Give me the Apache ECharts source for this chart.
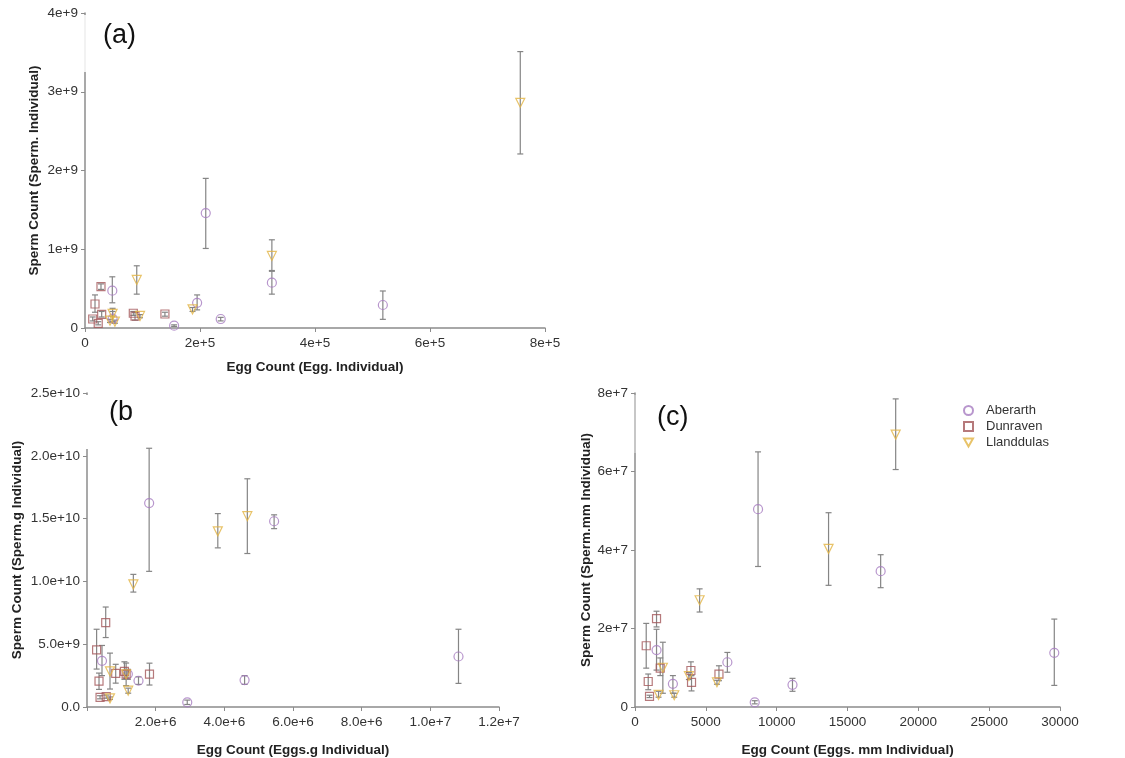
<!DOCTYPE html>
<html>
<head>
<meta charset="utf-8">
<script src="https://cdn.jsdelivr.net/npm/echarts@6/dist/echarts.min.js"></script>
<style>
  html, body { margin: 0; padding: 0; background: #fff; }
  #chart { width: 1125px; height: 758px; }
</style>
</head>
<body>
<div id="chart"></div>
<script>
// Each row: [egg count, sperm count, lower error, upper error]
const sites = ['Aberarth', 'Dunraven', 'Llanddulas'];

// (a) per individual
const aAberarth = [
  [2.10e5, 1.46e9, 1.01e9, 1.90e9],
  [3.25e5, 0.576e9, 0.43e9, 0.72e9],
  [5.18e5, 0.292e9, 0.11e9, 0.47e9],
  [0.475e5, 0.474e9, 0.32e9, 0.65e9],
  [0.48e5, 0.12e9, 0.08e9, 0.25e9],
  [1.95e5, 0.32e9, 0.23e9, 0.42e9],
  [2.36e5, 0.114e9, 0.09e9, 0.135e9],
  [1.55e5, 0.03e9, 0.02e9, 0.04e9]
];
const aDunraven = [
  [0.278e5, 0.525e9, 0.49e9, 0.56e9],
  [0.174e5, 0.305e9, 0.20e9, 0.42e9],
  [0.29e5, 0.174e9, 0.14e9, 0.21e9],
  [0.134e5, 0.114e9, 0.09e9, 0.14e9],
  [0.23e5, 0.06e9, 0.04e9, 0.08e9],
  [0.84e5, 0.187e9, 0.16e9, 0.21e9],
  [0.87e5, 0.15e9, 0.10e9, 0.20e9],
  [1.39e5, 0.178e9, 0.15e9, 0.20e9]
];
const aLlanddulas = [
  [0.90e5, 0.61e9, 0.43e9, 0.79e9],
  [3.25e5, 0.915e9, 0.73e9, 1.12e9],
  [1.87e5, 0.237e9, 0.21e9, 0.26e9],
  [0.957e5, 0.153e9, 0.13e9, 0.17e9],
  [0.435e5, 0.093e9, 0.07e9, 0.11e9],
  [0.52e5, 0.08e9, 0.06e9, 0.10e9],
  [0.48e5, 0.18e9, 0.15e9, 0.21e9],
  [7.57e5, 2.86e9, 2.21e9, 3.51e9]
];

// (b) per gram
const bAberarth = [
  [1.81e6, 16.24e9, 10.8e9, 20.6e9],
  [5.45e6, 14.79e9, 14.2e9, 15.3e9],
  [10.82e6, 4.02e9, 1.88e9, 6.19e9],
  [4.59e6, 2.14e9, 1.8e9, 2.5e9],
  [2.92e6, 0.37e9, 0.2e9, 0.55e9],
  [1.50e6, 2.09e9, 1.8e9, 2.4e9],
  [0.437e6, 3.68e9, 2.5e9, 4.9e9],
  [1.19e6, 2.62e9, 2.2e9, 3.0e9]
];
const bDunraven = [
  [0.545e6, 6.72e9, 5.53e9, 7.96e9],
  [0.28e6, 4.55e9, 3.02e9, 6.19e9],
  [0.35e6, 2.06e9, 1.4e9, 2.7e9],
  [0.38e6, 0.77e9, 0.65e9, 0.9e9],
  [0.56e6, 0.82e9, 0.7e9, 0.95e9],
  [0.836e6, 2.67e9, 1.9e9, 3.4e9],
  [1.09e6, 2.83e9, 2.2e9, 3.6e9],
  [1.82e6, 2.62e9, 1.75e9, 3.49e9],
  [1.14e6, 2.62e9, 1.7e9, 3.5e9]
];
const bLlanddulas = [
  [1.35e6, 9.76e9, 9.15e9, 10.56e9],
  [3.81e6, 13.99e9, 12.67e9, 15.4e9],
  [4.67e6, 15.19e9, 12.22e9, 18.17e9],
  [0.67e6, 2.83e9, 1.43e9, 4.29e9],
  [1.20e6, 1.30e9, 1.1e9, 1.5e9],
  [0.67e6, 0.69e9, 0.6e9, 0.8e9],
  [1.14e6, 2.6e9, 2.3e9, 2.9e9]
];

// (c) per mm
const cAberarth = [
  [8686, 5.04e7, 3.58e7, 6.5e7],
  [17340, 3.46e7, 3.04e7, 3.88e7],
  [29597, 1.38e7, 0.55e7, 2.24e7],
  [11117, 0.565e7, 0.4e7, 0.73e7],
  [8451, 0.12e7, 0.08e7, 0.16e7],
  [6520, 1.14e7, 0.886e7, 1.39e7],
  [2675, 0.59e7, 0.35e7, 0.8e7],
  [1520, 1.45e7, 0.94e7, 1.98e7]
];
const cDunraven = [
  [1520, 2.25e7, 2.04e7, 2.44e7],
  [792, 1.56e7, 0.99e7, 2.13e7],
  [933, 0.65e7, 0.44e7, 0.84e7],
  [1025, 0.27e7, 0.24e7, 0.30e7],
  [1782, 0.99e7, 0.8e7, 1.25e7],
  [3946, 0.93e7, 0.8e7, 1.15e7],
  [3990, 0.625e7, 0.41e7, 0.8e7],
  [5926, 0.84e7, 0.67e7, 1.05e7]
];
const cLlanddulas = [
  [18401, 6.94e7, 6.05e7, 7.85e7],
  [13663, 4.03e7, 3.1e7, 4.95e7],
  [4561, 2.72e7, 2.42e7, 3.01e7],
  [1966, 1.0e7, 0.35e7, 1.65e7],
  [1662, 0.31e7, 0.25e7, 0.4e7],
  [2770, 0.3e7, 0.25e7, 0.35e7],
  [3805, 0.79e7, 0.7e7, 0.88e7],
  [5785, 0.63e7, 0.58e7, 0.68e7]
];

const panelData = [
  [aAberarth, aDunraven, aLlanddulas],
  [bAberarth, bDunraven, bLlanddulas],
  [cAberarth, cDunraven, cLlanddulas]
];

const xTitles = ['Egg Count (Egg. Individual)', 'Egg Count (Eggs.g Individual)', 'Egg Count (Eggs. mm Individual)'];
const yTitles = ['Sperm Count (Sperm. Individual)', 'Sperm Count (Sperm.g Individual)', 'Sperm Count (Sperm.mm Individual)'];
const panelLabels = ['(a)', '(b', '(c)'];

const siteColors = ['#a67cc0', '#a4585a', '#e2b443'];
const downTriangle = 'path://M0,0 L10,0 L5,9 Z';
const siteSymbols = ['circle', 'rect', downTriangle];
const siteSizes = [9, 8, 9];

const FONT = '"Liberation Sans", Arial, sans-serif';

// scientific notation like "2e+5" / "1.5e+10"
function sci(v, digits) {
  if (v === 0) return digits ? (0).toFixed(digits) : '0';
  let e = Math.floor(Math.log10(v) + 1e-9);
  let m = v / Math.pow(10, e);
  return m.toFixed(digits) + 'e+' + e;
}

const grids = [
  { left: 85, top: 13, width: 460, height: 315 },
  { left: 87, top: 393, width: 412, height: 315 },
  { left: 635, top: 393, width: 425, height: 316 }
];

const xAxisCfg = [
  { min: 0, max: 8e5, interval: 2e5, fmt: v => sci(v, 0), gap: 32 },
  { min: 0, max: 1.2e7, interval: 2e6, fmt: v => v === 0 ? '' : sci(v, 1), gap: 36 },
  { min: 0, max: 30000, interval: 5000, fmt: v => String(v), gap: 36 }
];
const yAxisCfg = [
  { min: 0, max: 4e9, interval: 1e9, fmt: v => sci(v, 0), gap: 44 },
  { min: 0, max: 2.5e10, interval: 5e9, fmt: v => sci(v, 1), gap: 63 },
  { min: 0, max: 8e7, interval: 2e7, fmt: v => sci(v, 0), gap: 40 }
];

const axisLine = { show: true, lineStyle: { color: '#8c8c8c', width: 1.5 } };
const axisTick = { show: true, length: 4, lineStyle: { color: '#8c8c8c' } };
const axisLabel = { color: '#333', fontSize: 13.5, fontFamily: FONT };
const nameStyle = { color: '#222', fontSize: 13.5, fontWeight: 'bold', fontFamily: FONT };

const xAxes = xAxisCfg.map((c, i) => ({
  type: 'value', gridIndex: i, min: c.min, max: c.max, interval: c.interval,
  axisLine, axisTick, splitLine: { show: false },
  axisLabel: Object.assign({ formatter: c.fmt, margin: 8 }, axisLabel),
  name: xTitles[i], nameLocation: 'middle', nameGap: c.gap, nameTextStyle: nameStyle
}));
const yAxes = yAxisCfg.map((c, i) => ({
  type: 'value', gridIndex: i, min: c.min, max: c.max, interval: c.interval,
  axisLine, axisTick, splitLine: { show: false },
  axisLabel: Object.assign({ formatter: c.fmt, margin: 7 }, axisLabel),
  name: yTitles[i], nameLocation: 'middle', nameGap: c.gap, nameTextStyle: nameStyle
}));

// vertical error bar with caps
function errorBar(params, api) {
  const x = api.value(0);
  const lo = api.coord([x, api.value(1)]);
  const hi = api.coord([x, api.value(2)]);
  const cap = 3;
  const style = { stroke: '#858585', lineWidth: 1.2 };
  return {
    type: 'group',
    children: [
      { type: 'line', shape: { x1: lo[0], y1: lo[1], x2: hi[0], y2: hi[1] }, style },
      { type: 'line', shape: { x1: lo[0] - cap, y1: lo[1], x2: lo[0] + cap, y2: lo[1] }, style },
      { type: 'line', shape: { x1: hi[0] - cap, y1: hi[1], x2: hi[0] + cap, y2: hi[1] }, style }
    ]
  };
}

const series = [];
panelData.forEach((panel, p) => {
  panel.forEach((rows, s) => {
    series.push({
      type: 'custom', xAxisIndex: p, yAxisIndex: p, z: 2,
      renderItem: errorBar, silent: true,
      data: rows.map(r => [r[0], r[2], r[3]])
    });
  });
  panel.forEach((rows, s) => {
    series.push({
      type: 'scatter', name: sites[s], xAxisIndex: p, yAxisIndex: p, z: 3,
      symbol: siteSymbols[s], symbolSize: siteSizes[s],
      itemStyle: { color: 'rgba(255,255,255,0)', borderColor: siteColors[s], borderWidth: 1.2 },
      data: rows.map(r => [r[0], r[1]])
    });
  });
});

const graphic = [
  // faded upper stretch of the y axis lines behind the panel letters
  { type: 'rect', left: 82, top: 15, shape: { width: 6, height: 57 }, style: { fill: 'rgba(255,255,255,0.85)' }, z: 50 },
  { type: 'rect', left: 84, top: 395, shape: { width: 6, height: 54 }, style: { fill: '#fff' }, z: 50 },
  { type: 'rect', left: 632, top: 395, shape: { width: 6, height: 58 }, style: { fill: 'rgba(255,255,255,0.35)' }, z: 50 },
  { type: 'text', left: 103, top: 22, z: 60, style: { text: panelLabels[0], fontSize: 27, fontFamily: FONT, fill: '#111' } },
  { type: 'text', left: 109, top: 399, z: 60, style: { text: panelLabels[1], fontSize: 27, fontFamily: FONT, fill: '#111' } },
  { type: 'text', left: 657, top: 404, z: 60, style: { text: panelLabels[2], fontSize: 27, fontFamily: FONT, fill: '#111' } }
];

const chart = echarts.init(document.getElementById('chart'), null, { renderer: 'canvas' });
chart.setOption({
  backgroundColor: '#fff',
  animation: false,
  grid: grids,
  xAxis: xAxes,
  yAxis: yAxes,
  legend: {
    data: sites, orient: 'vertical', left: 958, top: 399,
    itemWidth: 9, itemHeight: 9, itemGap: 3,
    textStyle: { color: '#333', fontSize: 13, fontFamily: FONT, padding: [0, 0, 0, 8] }
  },
  graphic,
  series
});
</script>
</body>
</html>
